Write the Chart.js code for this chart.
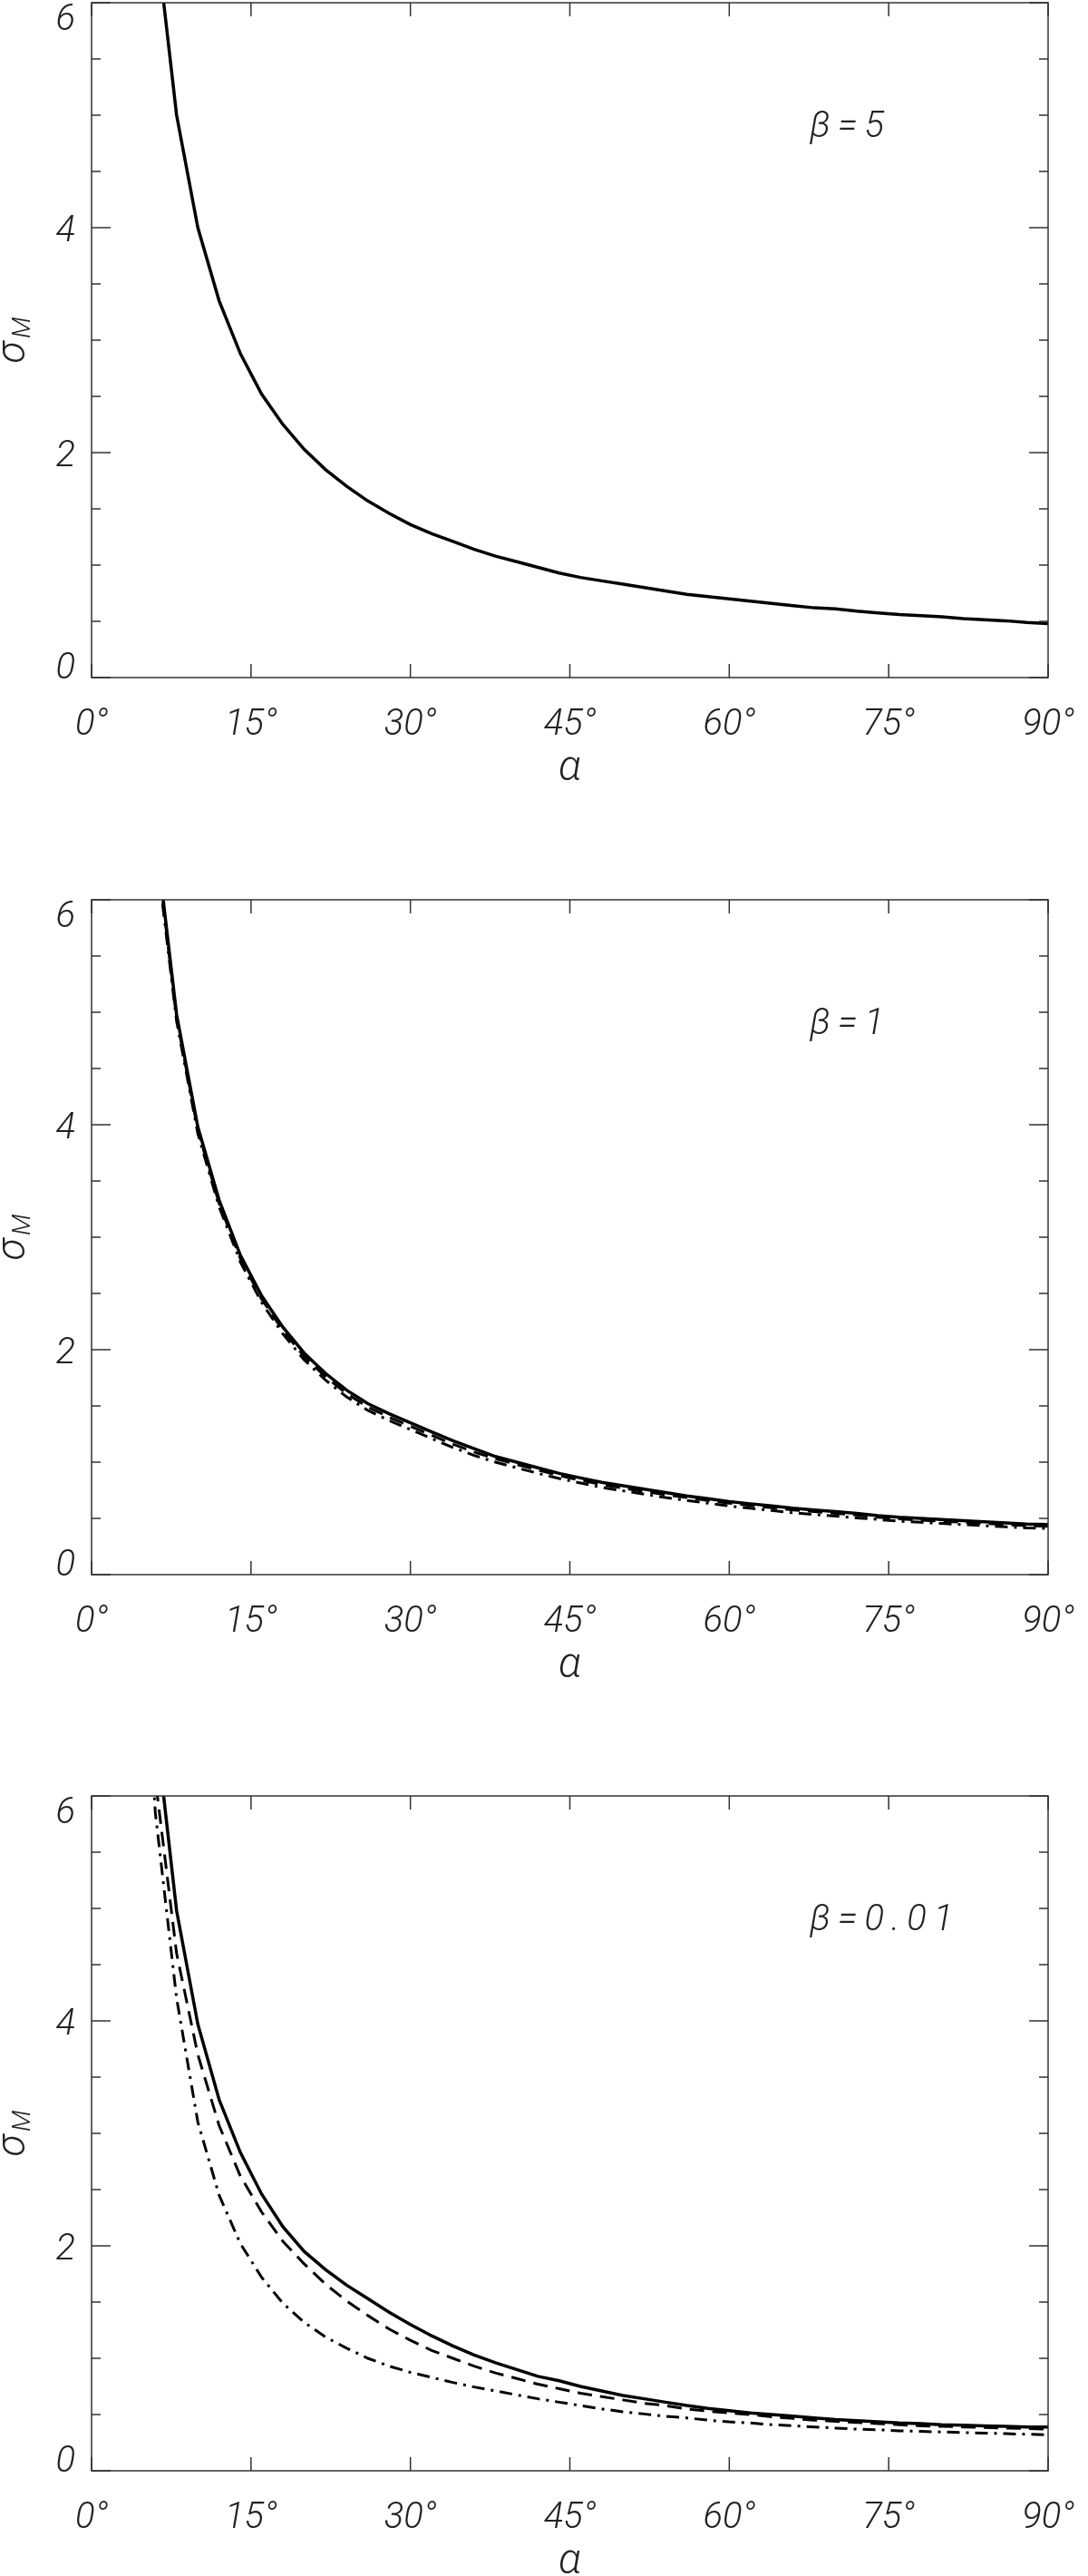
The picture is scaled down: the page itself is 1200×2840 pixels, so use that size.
<!DOCTYPE html>
<html>
<head>
<meta charset="utf-8">
<script src="https://cdn.jsdelivr.net/npm/chart.js@4.4.1/dist/chart.umd.min.js"></script>
<style>
  html, body { margin: 0; padding: 0; background: #fff; }
  body { width: 1200px; height: 2840px; position: relative; overflow: hidden; }
  canvas { position: absolute; left: 0; }
</style>
</head>
<body>
<canvas id="c1" width="1200" height="914" style="top:-37px"></canvas>
<canvas id="c2" width="1200" height="914" style="top:952px"></canvas>
<canvas id="c3" width="1200" height="914" style="top:1940px"></canvas>
<script>
// angle alpha in degrees (x axis)
const alpha = [4, 6, 8, 10, 12, 14, 16, 18, 20, 22, 24, 26, 28, 30, 32, 34, 36, 38, 40, 42, 44, 46,
               48, 50, 52, 54, 56, 58, 60, 62, 64, 66, 68, 70, 72, 74, 76, 78, 80, 82, 84, 86, 88, 90];

// beta = 5
const beta5Solid = [9.9, 6.65, 5.00, 4.00, 3.35, 2.88, 2.52, 2.25, 2.03, 1.85, 1.70, 1.57, 1.46, 1.36, 1.28, 1.21, 1.14, 1.08, 1.03, 0.98, 0.93, 0.89,
                    0.86, 0.83, 0.80, 0.77, 0.74, 0.72, 0.70, 0.68, 0.66, 0.64, 0.62, 0.61, 0.59, 0.575, 0.56, 0.55, 0.54, 0.525, 0.515, 0.505, 0.49, 0.48];

// beta = 1
const beta1Solid = [9.9, 6.6, 4.98, 3.98, 3.33, 2.84, 2.48, 2.20, 1.97, 1.79, 1.64, 1.52, 1.43, 1.35, 1.27, 1.19, 1.12, 1.05, 1.00, 0.95, 0.90, 0.86,
                    0.82, 0.79, 0.76, 0.73, 0.70, 0.675, 0.65, 0.63, 0.61, 0.59, 0.575, 0.56, 0.545, 0.525, 0.51, 0.50, 0.49, 0.48, 0.47, 0.46, 0.45, 0.445];
const beta1Dashed = [9.8, 6.55, 4.95, 3.95, 3.30, 2.81, 2.45, 2.17, 1.94, 1.76, 1.61, 1.49, 1.40, 1.32, 1.24, 1.16, 1.09, 1.03, 0.98, 0.93, 0.88, 0.84,
                     0.80, 0.77, 0.74, 0.71, 0.685, 0.66, 0.635, 0.615, 0.595, 0.575, 0.56, 0.545, 0.53, 0.51, 0.495, 0.485, 0.475, 0.465, 0.455, 0.445, 0.435, 0.43];
const beta1DashDot = [9.7, 6.5, 4.92, 3.92, 3.27, 2.78, 2.42, 2.14, 1.91, 1.73, 1.58, 1.46, 1.37, 1.29, 1.21, 1.13, 1.06, 1.00, 0.95, 0.90, 0.855, 0.815,
                      0.775, 0.745, 0.715, 0.685, 0.66, 0.635, 0.61, 0.59, 0.57, 0.55, 0.535, 0.52, 0.505, 0.49, 0.475, 0.465, 0.455, 0.445, 0.435, 0.425, 0.415, 0.41];

// beta = 0.01
const beta001Solid = [9.9, 6.65, 4.98, 3.97, 3.30, 2.83, 2.46, 2.17, 1.95, 1.79, 1.65, 1.53, 1.41, 1.30, 1.20, 1.11, 1.03, 0.96, 0.90, 0.84, 0.80, 0.75,
                      0.71, 0.67, 0.64, 0.61, 0.58, 0.555, 0.535, 0.515, 0.50, 0.485, 0.47, 0.455, 0.445, 0.435, 0.425, 0.42, 0.41, 0.405, 0.40, 0.395, 0.39, 0.39];
const beta001Dashed = [9.3, 6.15, 4.60, 3.70, 3.07, 2.62, 2.30, 2.04, 1.84, 1.66, 1.51, 1.38, 1.26, 1.16, 1.07, 1.00, 0.93, 0.87, 0.82, 0.77, 0.73, 0.69,
                       0.66, 0.63, 0.60, 0.58, 0.55, 0.53, 0.515, 0.50, 0.48, 0.465, 0.45, 0.44, 0.43, 0.42, 0.41, 0.40, 0.395, 0.39, 0.385, 0.38, 0.375, 0.37];
const beta001DashDot = [8.9, 5.85, 4.20, 3.10, 2.45, 2.02, 1.72, 1.49, 1.32, 1.19, 1.09, 1.00, 0.93, 0.875, 0.83, 0.785, 0.745, 0.71, 0.675, 0.64, 0.61, 0.58,
                        0.55, 0.525, 0.505, 0.485, 0.47, 0.45, 0.435, 0.425, 0.41, 0.40, 0.39, 0.38, 0.37, 0.365, 0.355, 0.35, 0.345, 0.34, 0.335, 0.33, 0.325, 0.32];

// axes
const xTicks = [0, 15, 30, 45, 60, 75, 90];
const yTicks = [0, 2, 4, 6];
const yMinorTicks = [0.5, 1, 1.5, 2.5, 3, 3.5, 4.5, 5, 5.5];
const panelLabels = ['β=5', 'β=1', 'β=0.01'];

const SOLID = [];
const DASHED = [16, 9];
const DASHDOT = [14, 7, 3, 7];

const FONT = '"Roboto", "Liberation Sans", sans-serif';

// line dataset from one of the arrays above
function lineSet(values, dash) {
  return {
    data: alpha.map((a, i) => ({ x: a, y: values[i] })),
    borderColor: '#000',
    borderWidth: dash.length ? 3 : 3.5,
    borderDash: dash,
    pointRadius: 0,
    tension: 0,
    fill: false,
    clip: 0
  };
}

// box, inward ticks and all labels, drawn from the scales
const framePlugin = {
  id: 'frame',
  afterDatasetsDraw(chart, args, opts) {
    const { ctx, chartArea: a, scales: { x, y } } = chart;
    ctx.save();
    ctx.strokeStyle = '#333';
    ctx.lineWidth = 1.5;
    ctx.strokeRect(a.left, a.top, a.right - a.left, a.bottom - a.top);

    ctx.beginPath();
    xTicks.forEach(v => {
      const px = x.getPixelForValue(v);
      ctx.moveTo(px, a.bottom); ctx.lineTo(px, a.bottom - 15);
      ctx.moveTo(px, a.top); ctx.lineTo(px, a.top + 15);
    });
    yTicks.forEach(v => {
      const py = y.getPixelForValue(v);
      ctx.moveTo(a.left, py); ctx.lineTo(a.left + 21, py);
      ctx.moveTo(a.right, py); ctx.lineTo(a.right - 21, py);
    });
    yMinorTicks.forEach(v => {
      const py = y.getPixelForValue(v);
      ctx.moveTo(a.left, py); ctx.lineTo(a.left + 10, py);
      ctx.moveTo(a.right, py); ctx.lineTo(a.right - 10, py);
    });
    ctx.stroke();

    ctx.fillStyle = '#222';
    ctx.font = 'italic 300 40px ' + FONT;
    ctx.textBaseline = 'alphabetic';

    // x tick labels
    ctx.textAlign = 'center';
    xTicks.forEach(v => ctx.fillText(v + '°', x.getPixelForValue(v), a.bottom + 63));

    // y tick labels (end labels pulled inside the box like the original)
    ctx.textAlign = 'right';
    yTicks.forEach((v, i) => {
      let off = 15;
      if (i === 0) off = 1;
      if (i === yTicks.length - 1) off = 30;
      ctx.fillText(String(v), a.left - 18, y.getPixelForValue(v) + off);
    });

    // x title
    ctx.textAlign = 'center';
    ctx.font = 'italic 300 46px ' + FONT;
    ctx.fillText('α', (a.left + a.right) / 2, a.bottom + 113);

    // y title sigma_M, rotated
    ctx.save();
    ctx.translate(27, (a.top + a.bottom) / 2);
    ctx.rotate(-Math.PI / 2);
    ctx.textAlign = 'left';
    ctx.font = 'italic 300 44px ' + FONT;
    const wS = ctx.measureText('σ').width;
    ctx.font = 'italic 300 28px ' + FONT;
    const wM = ctx.measureText('M').width;
    const start = -(wS + wM + 4) / 2;
    ctx.font = 'italic 300 44px ' + FONT;
    ctx.fillText('σ', start, 0);
    ctx.font = 'italic 300 28px ' + FONT;
    ctx.fillText('M', start + wS + 4, 6);
    ctx.restore();

    // beta annotation
    ctx.textAlign = 'left';
    ctx.font = 'italic 300 40px ' + FONT;
    ctx.letterSpacing = '8px';
    ctx.fillText(opts.label, 893, a.top + 148);
    ctx.restore();
  }
};

function makePanel(id, label, datasets) {
  return new Chart(document.getElementById(id), {
    type: 'line',
    data: { datasets: datasets },
    options: {
      responsive: false,
      animation: false,
      events: [],
      layout: { padding: { left: 101, right: 44, top: 40, bottom: 130 } },
      plugins: {
        legend: { display: false },
        tooltip: { enabled: false },
        frame: { label: label }
      },
      scales: {
        x: { type: 'linear', min: 0, max: 90, display: false },
        y: { type: 'linear', min: 0, max: 6, display: false }
      }
    },
    plugins: [framePlugin]
  });
}

makePanel('c1', panelLabels[0], [lineSet(beta5Solid, SOLID)]);
makePanel('c2', panelLabels[1], [lineSet(beta1DashDot, DASHDOT), lineSet(beta1Dashed, DASHED), lineSet(beta1Solid, SOLID)]);
makePanel('c3', panelLabels[2], [lineSet(beta001DashDot, DASHDOT), lineSet(beta001Dashed, DASHED), lineSet(beta001Solid, SOLID)]);
</script>
</body>
</html>
